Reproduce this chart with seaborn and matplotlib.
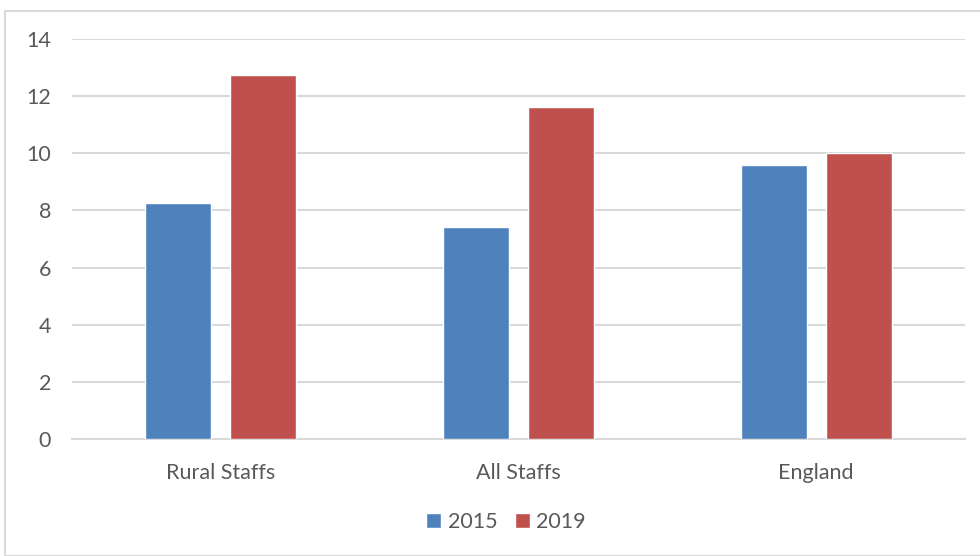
import matplotlib.pyplot as plt
import matplotlib.patches as mpatches
import seaborn as sns
import pandas as pd

# Datos del gráfico
categories = ["Rural Staffs", "All Staffs", "England"]
years = ["2015", "2019"]
values_2015 = [8.26, 7.42, 9.59]
values_2019 = [12.74, 11.62, 10.0]

colors = {"2015": "#4f81bd", "2019": "#c0504d"}

df = pd.DataFrame({
    "area": categories * 2,
    "year": [years[0]] * 3 + [years[1]] * 3,
    "value": values_2015 + values_2019,
})

sns.set_style("white")
plt.rcParams["font.family"] = ["Lato", "DejaVu Sans"]

fig = plt.figure(figsize=(9.8, 5.56), dpi=100)
ax = fig.add_axes([72 / 980, 1 - 439 / 556, (965 - 72) / 980, 400 / 556])

# marco del gráfico
fig.patches.append(mpatches.Rectangle(
    (5 / 980, 0), 1, 1 - 11 / 556, transform=fig.transFigure,
    fill=False, edgecolor="#d9d9d9", linewidth=1.5, zorder=0))

sns.barplot(data=df, x="area", y="value", hue="year", palette=colors,
            width=0.571, gap=0.223, order=categories, hue_order=years,
            saturation=1, ax=ax, zorder=3)

ax.set_ylim(0, 14)
ax.set_xlim(-0.5, 2.5)
ax.set_yticks(range(0, 15, 2))
ax.yaxis.grid(True, color="#d9d9d9", linewidth=1.5, zorder=0)
ax.set_axisbelow(True)
for s in ["top", "right", "left"]:
    ax.spines[s].set_visible(False)
ax.spines["bottom"].set_color("#d9d9d9")
ax.spines["bottom"].set_linewidth(1.5)
ax.tick_params(axis="both", length=0, labelsize=15.5, labelcolor="#595959")
ax.tick_params(axis="y", pad=15)
ax.tick_params(axis="x", pad=17)
ax.set_xlabel("")
ax.set_ylabel("")

ax.legend(loc="center", bbox_to_anchor=(0.486, -0.207), ncol=2, frameon=False,
          fontsize=15.5, labelcolor="#595959", handlelength=0.7, handleheight=0.7,
          handletextpad=0.3, columnspacing=0.8)

fig.savefig("out.png", dpi=100)
